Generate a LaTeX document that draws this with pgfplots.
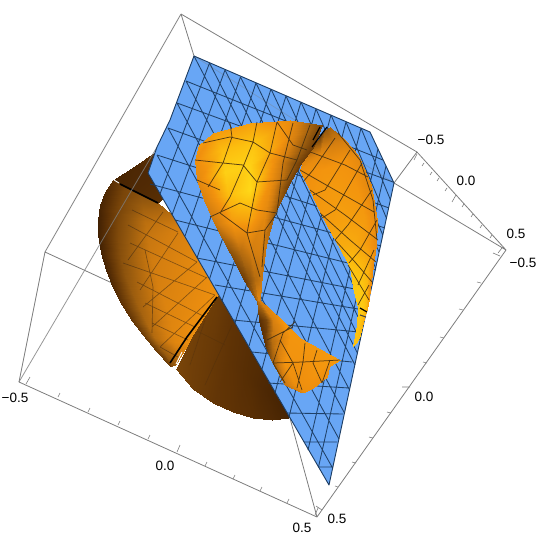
\documentclass[border=0pt]{standalone}
\usepackage{fontspec}
\setmainfont{Liberation Sans}
\usepackage{pgfplots}
\pgfplotsset{compat=1.18}
\definecolor{planeblue}{RGB}{104,166,245}
\definecolor{planeline}{RGB}{28,60,98}
\definecolor{surfline}{RGB}{70,48,16}
\definecolor{boxline}{RGB}{125,125,125}
\pgfplotsset{
  seg/.style={no marks,unbounded coords=jump,line join=round},
  gold/.style={surf,shader=interp,mesh/cols=#1,point meta=explicit},
  boxl/.style={seg,boxline,line width=0.8pt},
  pmesh/.style={seg,planeline,line width=0.85pt,opacity=0.95},
  smesh/.style={seg,surfline,line width=0.75pt,opacity=0.9},
  bmesh/.style={seg,black!70!brown,line width=0.65pt,opacity=0.55},
}
\begin{document}
\begin{tikzpicture}
\begin{axis}[
  scale only axis,width=540pt,height=551pt,
  xmin=0,xmax=540,ymin=0,ymax=551,y dir=reverse,
  hide axis,clip=true,
  point meta min=0,point meta max=1,
  colormap={gold}{rgb255(0)=(38,16,0) rgb255(20)=(94,50,5) rgb255(40)=(148,88,14)
    rgb255(60)=(212,126,16) rgb255(75)=(242,146,14) rgb255(90)=(252,188,14) rgb255(100)=(255,216,24)},
]
% invisible corners, keep the page size
\addplot[draw=none] coordinates {(0,0) (540,551)};

% box, the part behind the surfaces
\addplot[boxl] table {
181 14
417 152
506 250
317 517
19 382
45 252
181 14
nan nan
181 14
194 56
nan nan
45 252
125 289
nan nan
317 517
285 400
nan nan
417 152
394 183
506 250
};
% ticks on the three front edges
\addplot[boxl,line width=0.6pt] table {
26 384
30 377
nan nan
58 397
60 393
nan nan
88 412
90 408
nan nan
118 425
120 421
nan nan
148 439
150 435
nan nan
177 452
180 445
nan nan
205 466
207 462
nan nan
233 479
235 475
nan nan
260 491
262 487
nan nan
287 503
289 499
nan nan
315 515
318 508
nan nan
322 510
316 506
nan nan
338 487
335 486
nan nan
356 463
352 462
nan nan
373 438
369 437
nan nan
391 413
387 412
nan nan
410 387
402 387
nan nan
427 363
423 362
nan nan
444 338
440 337
nan nan
463 310
459 309
nan nan
481 283
477 282
nan nan
500 256
493 253
nan nan
417 154
414 160
nan nan
424 163
422 166
nan nan
432 172
430 175
nan nan
439 178
437 181
nan nan
447 188
445 191
nan nan
456 195
452 202
nan nan
464 204
462 207
nan nan
473 214
471 217
nan nan
482 225
480 228
nan nan
492 235
490 238
nan nan
502 248
498 253
};

% bowl, top dark piece
\addplot[gold=3] table[meta=c] {
x y c
113 180 0.12
135 192 0.15
158 203 0.18
135 166 0.14
150 178 0.15
165 195 0.18
155 152 0.20
160 165 0.20
170 185 0.20
};
% bowl, orange piece
\addplot[gold=4] table[meta=c] {
x y c
113 180 0.20
125 186 0.30
140 194 0.36
158 203 0.42
105 192 0.14
121 199 0.30
143 208 0.44
172 215 0.52
100 205 0.12
118 212 0.30
145 222 0.52
185 228 0.62
98 220 0.10
118 226 0.32
148 238 0.56
195 245 0.66
98 235 0.10
118 240 0.33
150 255 0.58
205 262 0.70
101 253 0.11
121 258 0.36
155 272 0.60
213 277 0.72
106 270 0.12
125 275 0.38
160 290 0.62
222 292 0.74
113 288 0.15
132 292 0.42
165 304 0.64
215 304 0.74
122 305 0.20
140 310 0.45
170 318 0.65
205 320 0.74
132 321 0.22
147 324 0.48
172 330 0.66
197 331 0.73
143 335 0.25
155 338 0.50
175 342 0.66
189 342 0.72
156 351 0.25
164 352 0.42
176 354 0.55
182 354 0.60
170 366 0.25
172 366 0.35
174 365 0.40
175 365 0.45
};
% bowl, dark piece below the seam
\addplot[gold=3] table[meta=c] {
x y c
176 369 0.30
194 334 0.27
218 296 0.25
193 389 0.26
212 345 0.24
235 310 0.20
213 403 0.22
230 360 0.20
255 335 0.17
233 412 0.20
248 375 0.17
270 355 0.15
253 418 0.18
265 390 0.14
285 380 0.12
272 420 0.15
280 405 0.12
292 400 0.10
288 418 0.12
292 416 0.10
298 412 0.08
};
% bowl mesh
\addplot[bmesh] table {
132 210
178 232
nan nan
128 225
197 262
nan nan
130 243
207 278
nan nan
123 263
215 295
nan nan
137 282
205 317
nan nan
145 303
195 327
nan nan
152 323
188 340
nan nan
160 347
178 357
nan nan
163 212
128 260
nan nan
178 233
140 290
nan nan
197 262
143 307
nan nan
207 277
152 327
nan nan
215 295
160 347
nan nan
145 250
153 287
152 333
};
\addplot[bmesh,opacity=0.25] table {
205 320
190 365
nan nan
232 325
205 385
nan nan
195 330
225 345
};
% seams on the bowl
\addplot[seg,black,line width=1.6pt] table {
120 184
158 203
nan nan
217 297
187 337
170 363
};
\addplot[seg,white,line width=0.9pt] table {
182 352
176 364
nan nan
114 180
119 183
};
% box edge in front of the bowl
\addplot[boxl,opacity=0.8] table {
19 382
157 147
};

% cutting plane
\addplot[fill=planeblue,draw=none] coordinates {(194,56) (370,132) (394,183) (329,485) (148,173) (157,147) (170,120)} --cycle;
\addplot[seg,boxline,opacity=0.35,line width=0.8pt] table {
194 56
394 183
};
\addplot[pmesh] table {
186 81
383 160
nan nan
177 103
393 182
nan nan
168 128
389 208
nan nan
157 155
385 228
nan nan
150 184
381 246
nan nan
175 220
376 270
nan nan
197 258
370 292
nan nan
215 285
364 310
nan nan
233 320
359 332
nan nan
252 352
352 362
nan nan
268 383
349 388
nan nan
287 413
343 414
nan nan
304 442
337 442
nan nan
318 467
333 467
nan nan
209.5 63
160 194
nan nan
225 70
172 215
nan nan
240.5 77
185 236
nan nan
256 83
197 258
nan nan
271 89
209.5 279
nan nan
286 96
222 301
nan nan
301 102
235 323
nan nan
316 109
249 346
nan nan
331 115
262 369
nan nan
346 122
275 393
nan nan
361 128
289 417
nan nan
378 149
308 450
nan nan
386 166
318.5 467
nan nan
194 56
355 365
nan nan
209.5 63
357.4 353
nan nan
225 70
360.2 340
nan nan
240.5 77
363 327
nan nan
256 83
366.3 312
nan nan
271 89
369.3 298
nan nan
286 96
372.3 284
nan nan
301 102
375.7 268
nan nan
316 109
379 252
nan nan
331 115
382.8 235
nan nan
346 122
386.4 218
nan nan
361 128
390.5 200
nan nan
186 81
349.6 390
nan nan
177 103
344.5 413
nan nan
168 128
339 439
nan nan
157 155
332.6 468
};
\addplot[seg,planeline,line width=0.9pt] coordinates {(194,56) (370,132) (394,183) (329,485) (148,173) (157,147) (170,120)} --cycle;

% right band
\addplot[gold=4] table[meta=c] {
x y c
314 147 0.30
320 137 0.30
325 130 0.40
330 127 0.45
303 160 0.62
320 155 0.68
335 145 0.62
345 140 0.60
300 170 0.72
322 170 0.76
345 160 0.75
358 155 0.68
313 197 0.76
335 195 0.78
358 190 0.76
371 185 0.66
325 222 0.78
345 220 0.80
365 220 0.78
377 220 0.70
338 245 0.84
352 245 0.84
368 245 0.78
376 245 0.70
350 267 0.92
360 267 0.90
368 267 0.85
373 265 0.72
353 287 0.95
360 287 0.95
366 287 0.90
370 290 0.72
358 308 0.95
362 308 0.95
366 308 0.90
368 305 0.80
357 325 0.92
359 325 0.92
361 325 0.90
363 322 0.85
353 346 0.92
355 344 0.92
358 340 0.92
360 335 0.92
};
\addplot[smesh] table {
305 150
345 165
368 177
nan nan
300 170
335 190
374 212
nan nan
310 190
345 215
378 240
nan nan
320 213
350 240
376 262
nan nan
335 240
355 262
372 282
nan nan
348 265
369 300
nan nan
335 138
313 170
303 182
nan nan
350 150
325 190
313 195
nan nan
362 163
335 210
322 218
nan nan
372 190
348 225
335 240
nan nan
377 220
360 250
349 263
nan nan
374 250
358 285
nan nan
369 285
358 305
nan nan
338 133
360 160
373 200
377 240
};

% lower piece and neck
\addplot[gold=4] table[meta=c] {
x y c
257 300 0.45
258 300 0.55
259 300 0.60
260 300 0.60
259 320 0.18
266 320 0.30
273 320 0.62
282 320 0.76
265 345 0.20
272 343 0.50
290 335 0.76
300 338 0.76
272 362 0.42
285 365 0.75
310 352 0.76
340 360 0.78
285 385 0.55
295 385 0.72
315 375 0.76
330 362 0.76
300 392 0.62
305 392 0.72
313 388 0.72
327 377 0.74
};
\addplot[smesh] table {
273 363
303 362
340 360
nan nan
267 340
293 327
nan nan
273 363
283 333
295 322
nan nan
280 340
293 363
302 390
nan nan
305 343
303 362
297 388
nan nan
317 350
313 363
322 383
nan nan
293 363
280 382
nan nan
330 360
322 383
nan nan
273 363
285 383
};

% horn
\addplot[gold=5] table[meta=c] {
x y c
199 145 0.78
213 133 0.78
250 123 0.80
290 120 0.70
322 125 0.30
195 160 0.72
222 150 0.90
255 142 0.92
283 140 0.75
314 146 0.25
197 180 0.68
225 172 0.97
250 165 0.97
275 160 0.72
300 165 0.25
204 200 0.62
228 195 0.90
250 190 1.00
270 185 0.72
288 186 0.28
215 225 0.55
232 222 0.78
250 218 0.82
265 215 0.68
274 215 0.42
230 253 0.35
240 252 0.50
250 250 0.60
260 250 0.62
266 245 0.55
245 282 0.25
250 281 0.38
255 280 0.50
260 280 0.55
262 275 0.55
256 300 0.45
257 300 0.55
258 300 0.65
259 300 0.65
260 298 0.60
};
\addplot[smesh] table {
203 143
230 137
253 142
270 153
297 160
nan nan
195 160
223 163
243 165
257 182
287 180
nan nan
197 180
220 190
nan nan
210 217
240 203
257 210
277 213
nan nan
220 213
247 233
265 230
nan nan
230 123
232 137
223 163
208 187
nan nan
257 122
253 142
243 167
230 197
220 213
nan nan
277 122
270 153
257 182
247 233
260 277
nan nan
293 123
283 163
277 213
265 230
262 267
nan nan
310 125
297 160
287 180
nan nan
277 122
293 145
307 150
};

% seams on the right
\addplot[seg,black,line width=1.2pt] table {
320 127
313 140
nan nan
327 127
312 147
nan nan
360 308
367 312
};
\addplot[seg,black!75,line width=1.1pt] table {
360 315
366 317
};

\node[font=\fontsize{13.5}{15}\selectfont] at (axis cs:431,140) {−0.5};
\node[font=\fontsize{13.5}{15}\selectfont] at (axis cs:466,181) {0.0};
\node[font=\fontsize{13.5}{15}\selectfont] at (axis cs:516,234) {0.5};
\node[font=\fontsize{13.5}{15}\selectfont] at (axis cs:523,263) {−0.5};
\node[font=\fontsize{13.5}{15}\selectfont] at (axis cs:424,397) {0.0};
\node[font=\fontsize{13.5}{15}\selectfont] at (axis cs:337,519) {0.5};
\node[font=\fontsize{13.5}{15}\selectfont] at (axis cs:302,528) {0.5};
\node[font=\fontsize{13.5}{15}\selectfont] at (axis cs:165,466) {0.0};
\node[font=\fontsize{13.5}{15}\selectfont] at (axis cs:15,398) {−0.5};
\end{axis}
\end{tikzpicture}
\end{document}
